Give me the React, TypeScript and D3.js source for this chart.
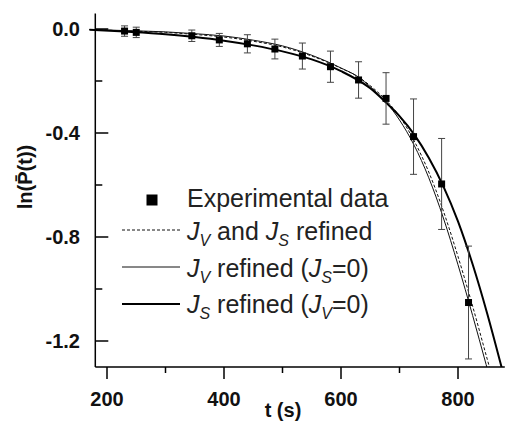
import React from "react";
import * as d3 from "d3";

// Experimental data
const tData = [230, 250, 345, 392, 440, 487, 534, 582, 630, 677, 724, 772, 818];
const lnP = [-0.008, -0.013, -0.026, -0.042, -0.057, -0.077, -0.104, -0.145, -0.196, -0.267, -0.414, -0.596, -1.052];
const errP = [0.02, 0.02, 0.022, 0.025, 0.035, 0.038, 0.05, 0.06, 0.07, 0.099, 0.145, 0.175, 0.217];

// Fit: J_V and J_S refined (dashed)
const bothT = [170, 230, 300, 350, 400, 450, 500, 550, 600, 630, 650, 677, 700, 725, 750, 775, 800, 825, 850, 870];
const bothV = [-0.002, -0.007, -0.013, -0.021, -0.031, -0.047, -0.069, -0.104, -0.151, -0.185, -0.218, -0.274, -0.336, -0.43, -0.55, -0.70, -0.875, -1.066, -1.27, -1.43];

// Fit: J_V refined (J_S = 0) (thin solid)
const jvT = [170, 230, 300, 350, 400, 450, 500, 550, 600, 630, 650, 677, 700, 725, 750, 775, 800, 825, 848, 865];
const jvV = [-0.002, -0.006, -0.011, -0.018, -0.027, -0.043, -0.065, -0.101, -0.15, -0.185, -0.222, -0.281, -0.35, -0.447, -0.572, -0.727, -0.907, -1.102, -1.29, -1.43];

// Fit: J_S refined (J_V = 0) (thick solid)
const jsT = [170, 230, 300, 350, 400, 450, 500, 550, 600, 650, 677, 700, 725, 750, 775, 800, 825, 850, 875, 890];
const jsV = [-0.003, -0.01, -0.02, -0.031, -0.045, -0.063, -0.086, -0.117, -0.162, -0.228, -0.283, -0.335, -0.405, -0.495, -0.605, -0.74, -0.905, -1.095, -1.305, -1.435];

const xMajor = [200, 400, 600, 800];
const xMinor = [300, 500, 700];
const yMajor = [0, -0.4, -0.8, -1.2];
const yMinor = [-0.2, -0.6, -1.0];

const FONT = "'Liberation Sans', Arial, Helvetica, sans-serif";

export default function App() {
  const x = d3.scaleLinear().domain([180, 880]).range([95.3, 504.8]);
  const y = d3.scaleLinear().domain([-1.3, 0.06]).range([367, 13.4]);
  const x0 = x(180);
  const yb = y(-1.3);

  const line = (ts: number[], vs: number[]) =>
    d3
      .line<number>()
      .x((_, i) => x(ts[i]))
      .y((v) => y(v))
      .curve(d3.curveMonotoneX)(vs) || "";

  const legX1 = 122;
  const legX2 = 180;
  const legTx = 187;
  const sub = (s: string) => (
    <>
      <tspan fontStyle="italic">J</tspan>
      <tspan fontStyle="italic" fontSize={16} dy={6}>
        {s}
      </tspan>
    </>
  );

  return (
    <svg
      width={508}
      height={422}
      style={{ position: "absolute", left: 0, top: 0, background: "#fff" }}
      fontFamily={FONT}
    >
      <defs>
        <clipPath id="plotclip">
          <rect x={0} y={0} width={508} height={yb} />
        </clipPath>
      </defs>

      {/* fits */}
      <g clipPath="url(#plotclip)" fill="none">
        <path d={line(jvT, jvV)} stroke="#111" strokeWidth={1} />
        <path d={line(bothT, bothV)} stroke="#111" strokeWidth={1} strokeDasharray="3,2" />
        <path d={line(jsT, jsV)} stroke="#000" strokeWidth={2} />
      </g>

      {/* error bars */}
      <g stroke="#444" strokeWidth={1}>
        {tData.map((t, i) => {
          const cx = x(t);
          const y1 = y(lnP[i] + errP[i]);
          const y2 = y(lnP[i] - errP[i]);
          return (
            <g key={i}>
              <line x1={cx} x2={cx} y1={y1} y2={y2} />
              <line x1={cx - 3.5} x2={cx + 3.5} y1={y1} y2={y1} />
              <line x1={cx - 3.5} x2={cx + 3.5} y1={y2} y2={y2} />
            </g>
          );
        })}
      </g>
      {/* points */}
      <g fill="#000">
        {tData.map((t, i) => (
          <rect key={i} x={x(t) - 3.5} y={y(lnP[i]) - 3.5} width={7} height={7} />
        ))}
      </g>

      {/* axes */}
      <g stroke="#000" strokeWidth={1.5}>
        <line x1={x0} x2={x0} y1={y(0.06)} y2={yb} />
        <line x1={x0} x2={x(880)} y1={yb} y2={yb} />
        {xMajor.map((t) => (
          <line key={"xM" + t} x1={x(t)} x2={x(t)} y1={yb} y2={yb + 12} />
        ))}
        {xMinor.map((t) => (
          <line key={"xm" + t} x1={x(t)} x2={x(t)} y1={yb} y2={yb + 6} />
        ))}
        {yMajor.map((v) => (
          <line key={"yM" + v} x1={x0} x2={x0 + 13} y1={y(v)} y2={y(v)} />
        ))}
        {yMinor.map((v) => (
          <line key={"ym" + v} x1={x0} x2={x0 + 7} y1={y(v)} y2={y(v)} />
        ))}
      </g>
      <g fontSize={20} fontWeight="bold" fill="#111">
        {xMajor.map((t) => (
          <text key={"xl" + t} x={x(t)} y={406} textAnchor="middle">
            {t}
          </text>
        ))}
        {yMajor.map((v) => (
          <text key={"yl" + v} x={80} y={y(v) + 7} textAnchor="end">
            {v.toFixed(1)}
          </text>
        ))}
        <text x={283} y={417} textAnchor="middle">
          t (s)
        </text>
        <text transform="translate(32,177) rotate(-90)" textAnchor="middle">
          {"ln(P\u0304(t))"}
        </text>
      </g>

      {/* legend */}
      <rect x={152 - 5.5} y={200 - 5.5} width={11} height={11} fill="#000" />
      <line x1={legX1} x2={legX2} y1={230} y2={230} stroke="#111" strokeWidth={1} strokeDasharray="3,2" />
      <line x1={legX1} x2={legX2} y1={267} y2={267} stroke="#111" strokeWidth={1} />
      <line x1={legX1} x2={legX2} y1={304} y2={304} stroke="#000" strokeWidth={2} />
      <g fontSize={25} fill="#222">
        <text x={legTx} y={207}>Experimental data</text>
        <text x={legTx} y={240}>
          {sub("V")}
          <tspan dy={-6}> and </tspan>
          {sub("S")}
          <tspan dy={-6}> refined</tspan>
        </text>
        <text x={legTx} y={276.5}>
          {sub("V")}
          <tspan dy={-6}> refined (</tspan>
          {sub("S")}
          <tspan dy={-6}>=0)</tspan>
        </text>
        <text x={legTx} y={313}>
          {sub("S")}
          <tspan dy={-6}> refined (</tspan>
          {sub("V")}
          <tspan dy={-6}>=0)</tspan>
        </text>
      </g>
    </svg>
  );
}
